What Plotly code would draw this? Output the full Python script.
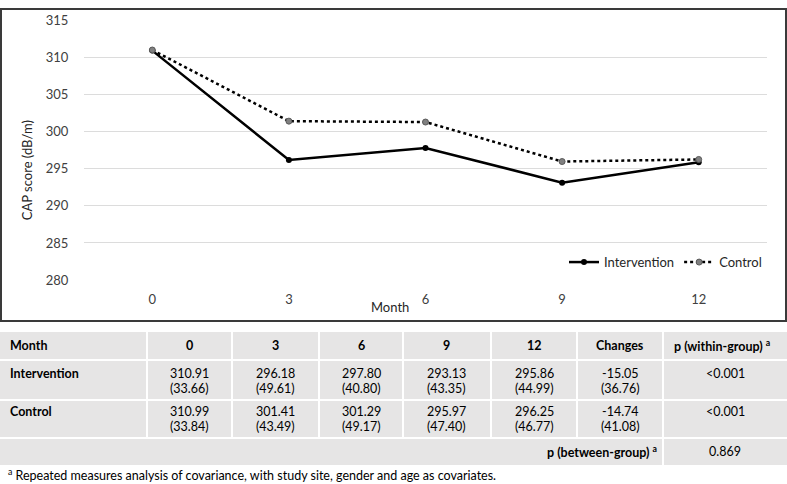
import plotly.graph_objects as go

# ---------------- data ----------------
months = ["0", "3", "6", "9", "12"]
intervention_mean = [310.91, 296.18, 297.80, 293.13, 295.86]
intervention_sd = [33.66, 49.61, 40.80, 43.35, 44.99]
control_mean = [310.99, 301.41, 301.29, 295.97, 296.25]
control_sd = [33.84, 43.49, 49.17, 47.40, 46.77]
change_mean = [-15.05, -14.74]
change_sd = [36.76, 41.08]
p_within = ["<0.001", "<0.001"]
p_between = "0.869"
y_ticks = [280, 285, 290, 295, 300, 305, 310, 315]
footnote = "<sup>a</sup> Repeated measures analysis of covariance, with study site, gender and age as covariates."

# positions below are written in the 787x484 picture frame and mapped to the page
RW, RH = 787, 484
W, H = 787, 492
FONT = "Lato"
def px(x):
    return x / RW
def py(y):
    page_y = y * 500 / 484 - 8
    return 1 - page_y / H

fig = go.Figure()
fig.add_trace(go.Scatter(
    x=months, y=intervention_mean, name="Intervention", mode="lines+markers",
    line=dict(color="black", width=2.5),
    marker=dict(color="black", size=6, symbol="circle"),
))
fig.add_trace(go.Scatter(
    x=months, y=control_mean, name="Control", mode="lines+markers",
    line=dict(color="black", width=2.5, dash="dot"),
    marker=dict(color="#808080", size=6, symbol="circle", line=dict(color="#595959", width=1)),
))

shapes = []
annotations = []

# chart border
shapes.append(dict(type="rect", xref="paper", yref="paper",
                   x0=px(1), x1=px(786), y0=py(321), y1=py(8.8),
                   line=dict(color="#3a3a3a", width=2), fillcolor="rgba(0,0,0,0)", layer="above"))

# axis titles
annotations.append(dict(text="Month", xref="paper", yref="paper", x=px(390), y=py(307),
                        showarrow=False, font=dict(family=FONT, size=13, color="#262626"),
                        xanchor="center", yanchor="middle"))
annotations.append(dict(text="CAP score (dB/m)", xref="paper", yref="paper", x=px(27), y=py(170),
                        textangle=-90, showarrow=False, font=dict(family=FONT, size=13, color="#262626"),
                        xanchor="center", yanchor="middle"))

# ---------------- table ----------------
col_b = [0, 147, 232, 319, 403, 491, 577, 663, 787]
rows_b = [(332, 359), (361, 399), (401, 437), (439, 465)]
FILL = "#e6e5e5"

def cell(x0, x1, y0, y1):
    shapes.append(dict(type="rect", xref="paper", yref="paper",
                       x0=px(x0), x1=px(x1), y0=py(y1), y1=py(y0),
                       line=dict(width=0), fillcolor=FILL, layer="below"))

for r, (y0, y1) in enumerate(rows_b[:3]):
    for c in range(len(col_b) - 1):
        x0 = col_b[c] + (1 if c > 0 else 0)
        x1 = col_b[c + 1] - 1 if c < len(col_b) - 2 else col_b[c + 1]
        cell(x0, x1, y0, y1)
# merged last row
cell(0, col_b[7] - 1, rows_b[3][0], rows_b[3][1])
cell(col_b[7] + 1, col_b[8], rows_b[3][0], rows_b[3][1])

def txt(text, x, y, xanchor="center", bold=False, size=12.5):
    if bold:
        text = "<b>" + text + "</b>"
    annotations.append(dict(text=text, xref="paper", yref="paper", x=px(x), y=py(y),
                            showarrow=False, xanchor=xanchor, yanchor="middle",
                            font=dict(family=FONT, size=size, color="black")))

centers = [(col_b[i] + col_b[i + 1]) / 2 for i in range(1, len(col_b) - 1)]
header = months + ["Changes", "p (within-group) <sup>a</sup>"]
hy = (rows_b[0][0] + rows_b[0][1]) / 2
txt("Month", 8, hy, "left", True)
for cx, h in zip(centers, header):
    txt(h, cx - (3 if h.startswith("p") else 0), hy, "center", True)

groups = [("Intervention", intervention_mean, intervention_sd, 373),
          ("Control", control_mean, control_sd, 411)]
for g, (name, means, sds, ly) in enumerate(groups):
    txt(name, 8, ly, "left", True)
    vals = [(f"{m:.2f}", f"({s:.2f})") for m, s in zip(means, sds)]
    vals.append((f"{change_mean[g]:.2f}", f"({change_sd[g]:.2f})"))
    for cx, (a, b) in zip(centers[:6], vals):
        txt(a, cx, ly)
        txt(b, cx, ly + 15)
    txt(p_within[g], centers[6], ly)

by = 451
txt("p (between-group) <sup>a</sup>", 659, by, "right", True)
txt(p_between, centers[6], by)

annotations.append(dict(text=footnote, xref="paper", yref="paper", x=px(6), y=py(474),
                        showarrow=False, xanchor="left", yanchor="middle",
                        font=dict(family=FONT, size=12.5, color="black")))

fig.update_layout(
    width=W, height=H, autosize=False,
    margin=dict(l=0, r=0, t=0, b=0),
    paper_bgcolor="white", plot_bgcolor="white",
    font=dict(family=FONT, size=13, color="#404040"),
    xaxis=dict(type="category", range=[-0.5, 4.5], domain=[px(84), px(767)],
               showgrid=False, zeroline=False, showline=False,
               ticks="outside", ticklen=7, tickcolor="rgba(0,0,0,0)",
               tickfont=dict(family=FONT, size=13, color="#404040")),
    yaxis=dict(range=[280, 315], tickvals=y_ticks, domain=[py(280), py(20)],
               showgrid=True, gridcolor="#dcdcdc", gridwidth=1.2, zeroline=False, showline=False,
               ticks="outside", ticklen=12, tickcolor="rgba(0,0,0,0)",
               tickfont=dict(family=FONT, size=13, color="#404040")),
    legend=dict(orientation="h", x=px(767), xanchor="right", y=py(262), yanchor="middle",
                bgcolor="rgba(0,0,0,0)", font=dict(family=FONT, size=13, color="#262626"),
                itemwidth=30, tracegroupgap=0),
    shapes=shapes, annotations=annotations,
)

fig.write_html("out.html", config={"displayModeBar": False},
               post_script="document.body.style.margin='0';")
